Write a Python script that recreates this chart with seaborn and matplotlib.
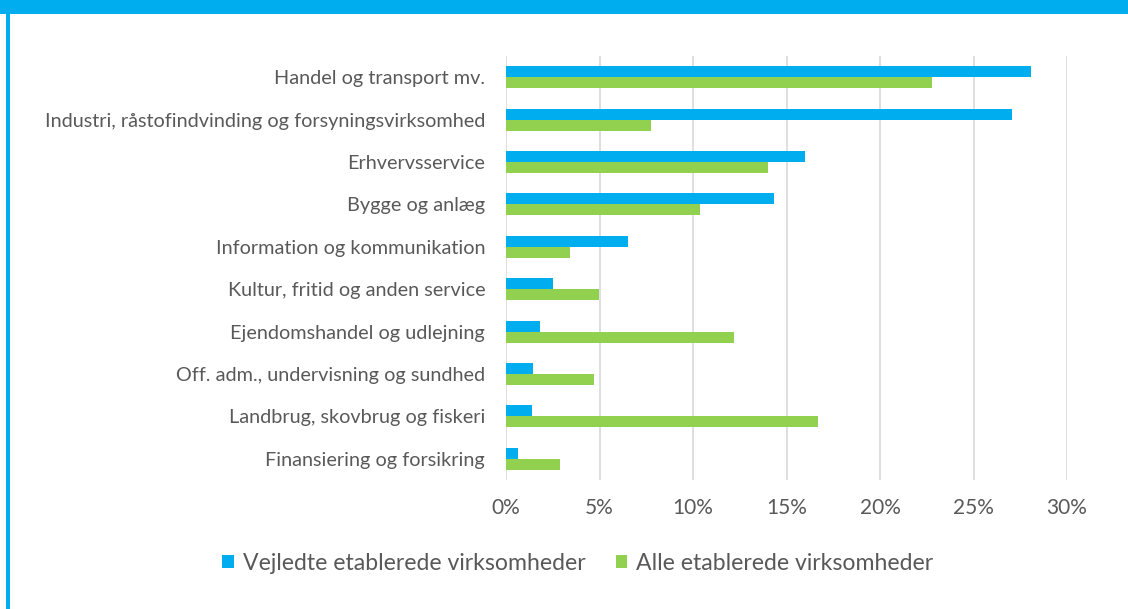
import pandas as pd
import matplotlib
matplotlib.use('Agg')
import matplotlib.pyplot as plt
import seaborn as sns
from matplotlib.patches import Rectangle
from matplotlib.ticker import PercentFormatter

brancher = [
    'Handel og transport mv.',
    'Industri, råstofindvinding og forsyningsvirksomhed',
    'Erhvervsservice',
    'Bygge og anlæg',
    'Information og kommunikation',
    'Kultur, fritid og anden service',
    'Ejendomshandel og udlejning',
    'Off. adm., undervisning og sundhed',
    'Landbrug, skovbrug og fiskeri',
    'Finansiering og forsikring',
]
vejledte = [28.07, 27.05, 16.0, 14.33, 6.52, 2.5, 1.84, 1.46, 1.39, 0.64]
alle = [22.8, 7.75, 14.0, 10.37, 3.4, 4.97, 12.17, 4.7, 16.7, 2.87]
serier = ['Vejledte etablerede virksomheder', 'Alle etablerede virksomheder']

df = pd.DataFrame({'Branche': brancher * 2,
                   'Andel': vejledte + alle,
                   'Serie': [serier[0]] * len(brancher) + [serier[1]] * len(brancher)})

sns.set_style('white')
plt.rcParams['font.family'] = ['Lato', 'DejaVu Sans']
grå = '#595959'

fig = plt.figure(figsize=(11.28, 6.09), dpi=100)
ax = fig.add_axes([506 / 1128, 1 - 480 / 609, (1067 - 506) / 1128, (480 - 56) / 609])

sns.barplot(data=df, y='Branche', x='Andel', hue='Serie', orient='h',
            palette=['#00ADEF', '#92D050'], saturation=1, width=0.52,
            linewidth=0, ax=ax)

ax.set_xlim(0, 30)
ax.set_xticks(range(0, 31, 5))
ax.xaxis.set_major_formatter(PercentFormatter(decimals=0))
ax.grid(axis='x', color='#D9D9D9', linewidth=1.2)
ax.set_axisbelow(True)
for s in ax.spines.values():
    s.set_visible(False)
ax.set_xlabel('')
ax.set_ylabel('')
ax.tick_params(axis='y', length=0, pad=15, labelsize=14.3, labelcolor=grå)
ax.tick_params(axis='x', length=0, pad=13, labelsize=15, labelcolor=grå)

ax.legend(loc='center', bbox_to_anchor=(578 / 1128, 1 - 563 / 609),
          bbox_transform=fig.transFigure, ncol=2, frameon=False,
          fontsize=16.6, labelcolor=grå, handlelength=0.5, handleheight=0.5,
          handletextpad=0.4, columnspacing=1.3)

# blå ramme øverst og til venstre
fig.add_artist(Rectangle((0, 1 - 14 / 609), 1, 14 / 609, transform=fig.transFigure,
                         color='#00ADEF', lw=0))
fig.add_artist(Rectangle((6 / 1128, 0), 4 / 1128, 1, transform=fig.transFigure,
                         color='#00ADEF', lw=0))

fig.savefig('out.png', dpi=100)
